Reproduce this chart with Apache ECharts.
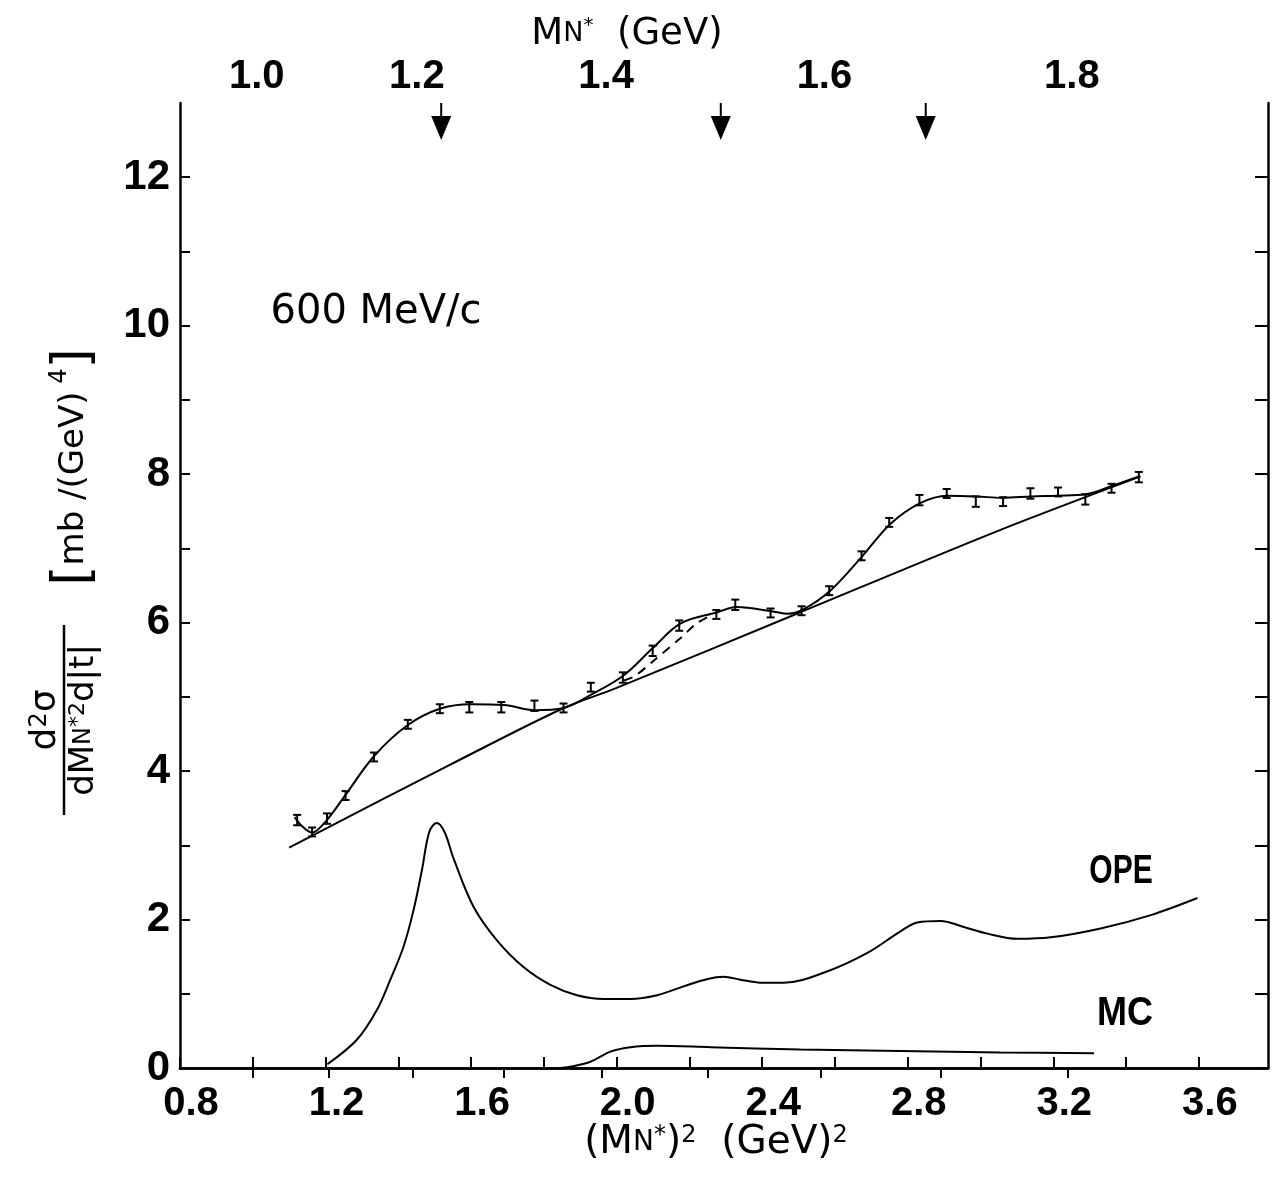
<!DOCTYPE html>
<html>
<head>
<meta charset="utf-8">
<script src="https://cdn.jsdelivr.net/npm/echarts@6/dist/echarts.min.js"></script>
<style>
html, body { margin: 0; padding: 0; background: #fff; }
#chart { width: 1275px; height: 1178px; }
</style>
</head>
<body>
<div id="chart"></div>
<script>
// 数据点 (M_N*)^2 与截面，带误差棒
const pointX = [1.122, 1.163, 1.204, 1.255, 1.333, 1.426, 1.514, 1.595, 1.683, 1.774, 1.854, 1.929, 2.017, 2.099, 2.172, 2.274, 2.326, 2.423, 2.508, 2.584, 2.673, 2.749, 2.832, 2.907, 2.987, 3.062, 3.137, 3.213, 3.288, 3.360, 3.435];
const pointY = [3.34, 3.18, 3.36, 3.67, 4.19, 4.63, 4.84, 4.86, 4.86, 4.88, 4.85, 5.13, 5.26, 5.62, 5.96, 6.11, 6.24, 6.13, 6.16, 6.43, 6.90, 7.35, 7.65, 7.74, 7.63, 7.63, 7.74, 7.76, 7.66, 7.81, 7.96];
const pointErr = [0.07, 0.06, 0.07, 0.06, 0.06, 0.06, 0.06, 0.07, 0.07, 0.07, 0.06, 0.06, 0.07, 0.07, 0.07, 0.06, 0.07, 0.06, 0.06, 0.06, 0.06, 0.06, 0.07, 0.06, 0.07, 0.06, 0.07, 0.06, 0.07, 0.06, 0.07];

// 拟合曲线
const fitX = [1.115, 1.135, 1.163, 1.20, 1.255, 1.333, 1.426, 1.514, 1.60, 1.69, 1.774, 1.854, 1.93, 2.017, 2.10, 2.176, 2.277, 2.33, 2.43, 2.47, 2.51, 2.587, 2.676, 2.752, 2.834, 2.909, 2.989, 3.06, 3.14, 3.21, 3.29, 3.36, 3.435];
const fitY = [3.38, 3.26, 3.17, 3.32, 3.68, 4.20, 4.62, 4.84, 4.90, 4.89, 4.82, 4.85, 5.03, 5.28, 5.66, 5.99, 6.14, 6.21, 6.15, 6.12, 6.17, 6.43, 6.90, 7.33, 7.61, 7.71, 7.70, 7.68, 7.70, 7.71, 7.73, 7.84, 7.97];

// 本底直线
const bgX = [1.10, 1.54, 1.85, 2.00, 2.50, 3.05, 3.44];
const bgY = [2.97, 4.08, 4.84, 5.12, 6.13, 7.24, 7.97];

// 虚线
const dashX = [2.02, 2.05, 2.10, 2.175, 2.22, 2.26];
const dashY = [5.22, 5.28, 5.48, 5.79, 5.99, 6.10];

// OPE 曲线
const opeX = [1.205, 1.286, 1.341, 1.378, 1.414, 1.442, 1.465, 1.485, 1.505, 1.527, 1.552, 1.607, 1.671, 1.744, 1.818, 1.891, 1.964, 2.038, 2.111, 2.184, 2.250, 2.294, 2.340, 2.395, 2.459, 2.578, 2.689, 2.780, 2.826, 2.890, 2.954, 3.019, 3.101, 3.193, 3.330, 3.468, 3.596];
const opeY = [0.05, 0.38, 0.78, 1.19, 1.63, 2.13, 2.67, 3.18, 3.30, 3.18, 2.82, 2.17, 1.72, 1.36, 1.12, 0.98, 0.93, 0.93, 0.98, 1.10, 1.20, 1.23, 1.19, 1.15, 1.15, 1.30, 1.55, 1.84, 1.96, 1.98, 1.90, 1.81, 1.74, 1.76, 1.88, 2.06, 2.29];

// MC 曲线
const mcX = [1.83, 1.864, 1.928, 1.983, 2.038, 2.111, 2.258, 2.505, 2.780, 3.055, 3.312];
const mcY = [0.00, 0.01, 0.085, 0.22, 0.28, 0.30, 0.28, 0.25, 0.23, 0.21, 0.20];

// 坐标轴刻度
const bottomTicks = [0.8, 1.0, 1.2, 1.4, 1.6, 1.8, 2.0, 2.2, 2.4, 2.6, 2.8, 3.0, 3.2, 3.4, 3.6];
const bottomLabels = [0.8, 1.2, 1.6, 2.0, 2.4, 2.8, 3.2, 3.6];
const massTicks = [1.0, 1.1, 1.2, 1.3, 1.4, 1.5, 1.6, 1.7, 1.8];
const massLabels = [1.0, 1.2, 1.4, 1.6, 1.8];
const yTicks = [0, 1, 2, 3, 4, 5, 6, 7, 8, 9, 10, 11, 12];
const yLabels = [0, 2, 4, 6, 8, 10, 12];

// 共振态位置 (GeV)
const resonanceMass = [1.232, 1.512, 1.688];

const pairs = (xs, ys) => xs.map((x, i) => [x, ys[i]]);
const LABEL_FONT = "'Liberation Sans', sans-serif";
const TEXT_FONT = "'DejaVu Sans', sans-serif";

const chart = echarts.init(document.getElementById('chart'));

const lineStyle = { color: '#000', width: 2 };

const option = {
    animation: false,
    backgroundColor: '#fff',
    grid: { left: 180, right: 7, top: 103, bottom: 110 },
    xAxis: [
        {
            type: 'value', min: 0.8, max: 3.79, position: 'bottom',
            axisLine: { show: true, lineStyle: { color: '#000', width: 2.5 } },
            axisTick: { show: true, inside: true, length: 11, customValues: bottomTicks, lineStyle: { color: '#000', width: 2 } },
            axisLabel: {
                customValues: bottomLabels, formatter: v => v.toFixed(1),
                color: '#000', fontFamily: LABEL_FONT, fontWeight: 'bold', fontSize: 40,
                margin: 16, padding: [0, 0, 0, 22]
            },
            splitLine: { show: false }
        },
        {
            type: 'value', min: 0.8, max: 3.79, position: 'top',
            axisLine: { show: true, lineStyle: { color: '#000', width: 2.5 } },
            axisTick: { show: true, inside: true, length: 10, customValues: massTicks.map(m => m * m), lineStyle: { color: '#000', width: 2 } },
            axisLabel: {
                customValues: massLabels.map(m => m * m), formatter: v => Math.sqrt(v).toFixed(1),
                color: '#000', fontFamily: LABEL_FONT, fontWeight: 'bold', fontSize: 40,
                margin: 6, padding: [0, 0, 0, 8]
            },
            splitLine: { show: false }
        }
    ],
    yAxis: [
        {
            type: 'value', min: 0, max: 13, position: 'left',
            axisLine: { show: true, lineStyle: { color: '#000', width: 2.5 } },
            axisTick: { show: true, inside: true, length: 10, customValues: yTicks, lineStyle: { color: '#000', width: 2 } },
            axisLabel: {
                customValues: yLabels, color: '#000', fontFamily: LABEL_FONT, fontWeight: 'bold', fontSize: 42, margin: 10
            },
            splitLine: { show: false }
        },
        {
            type: 'value', min: 0, max: 13, position: 'right',
            axisLine: { show: true, lineStyle: { color: '#000', width: 2.5 } },
            axisTick: { show: true, inside: true, length: 13, customValues: yTicks, lineStyle: { color: '#000', width: 2 } },
            axisLabel: { show: false },
            splitLine: { show: false }
        }
    ],
    series: [
        {
            type: 'line', data: pairs(fitX, fitY), smooth: 0.35, showSymbol: false,
            lineStyle: lineStyle
        },
        {
            type: 'line', data: pairs(bgX, bgY), smooth: 0.3, showSymbol: false,
            lineStyle: lineStyle
        },
        {
            type: 'line', data: pairs(dashX, dashY), smooth: 0.3, showSymbol: false,
            lineStyle: { color: '#000', width: 2, type: [9, 7] }
        },
        {
            // 误差棒
            type: 'custom',
            data: pointX.map((x, i) => [x, pointY[i], pointErr[i]]),
            renderItem: (params, api) => {
                const x = api.value(0), y = api.value(1), e = api.value(2);
                const lo = api.coord([x, y - e]);
                const hi = api.coord([x, y + e]);
                const w = 4;
                const s = { stroke: '#000', lineWidth: 2 };
                return {
                    type: 'group',
                    children: [
                        { type: 'line', shape: { x1: lo[0], y1: lo[1], x2: hi[0], y2: hi[1] }, style: s },
                        { type: 'line', shape: { x1: lo[0] - w, y1: lo[1], x2: lo[0] + w, y2: lo[1] }, style: s },
                        { type: 'line', shape: { x1: hi[0] - w, y1: hi[1], x2: hi[0] + w, y2: hi[1] }, style: s }
                    ]
                };
            }
        },
        {
            type: 'line', data: pairs(opeX, opeY), smooth: 0.35, showSymbol: false,
            lineStyle: lineStyle
        },
        {
            type: 'line', data: pairs(mcX, mcY), smooth: 0.3, showSymbol: false,
            lineStyle: lineStyle
        },
        {
            // 顶部箭头，标示共振态
            type: 'custom',
            clip: false,
            data: resonanceMass.map(m => [m * m, 13]),
            renderItem: (params, api) => {
                const p = api.coord([api.value(0), api.value(1)]);
                return {
                    type: 'group',
                    children: [
                        { type: 'line', shape: { x1: p[0], y1: p[1], x2: p[0], y2: p[1] + 14 }, style: { stroke: '#000', lineWidth: 2 } },
                        { type: 'polygon', shape: { points: [[p[0] - 10, p[1] + 13], [p[0] + 10, p[1] + 13], [p[0], p[1] + 37]] }, style: { fill: '#000' } }
                    ]
                };
            }
        }
    ],
    graphic: [
        {
            type: 'text', x: 627, y: 34,
            style: {
                text: '{m|M}{n|N}{s|*}{m|  (GeV)}',
                rich: {
                    m: { fontFamily: TEXT_FONT, fontSize: 37, fill: '#000' },
                    n: { fontFamily: TEXT_FONT, fontSize: 27, fill: '#000' },
                    s: { fontFamily: TEXT_FONT, fontSize: 20, fill: '#000', verticalAlign: 'top' }
                },
                align: 'center', verticalAlign: 'middle', textAlign: 'center', textVerticalAlign: 'middle'
            }
        },
        {
            type: 'text', x: 716, y: 1143,
            style: {
                text: '{m|(M}{n|N}{s|*}{m|)}{s|2}{m|  (GeV)}{s|2}',
                rich: {
                    m: { fontFamily: TEXT_FONT, fontSize: 39, fill: '#000' },
                    n: { fontFamily: TEXT_FONT, fontSize: 28, fill: '#000' },
                    s: { fontFamily: TEXT_FONT, fontSize: 24, fill: '#000', verticalAlign: 'top' }
                },
                align: 'center', verticalAlign: 'middle', textAlign: 'center', textVerticalAlign: 'middle'
            }
        },
        {
            type: 'text', x: 376, y: 313,
            style: {
                text: '600 MeV/c', fontFamily: TEXT_FONT, fontSize: 40, fill: '#000',
                align: 'center', verticalAlign: 'middle', textAlign: 'center', textVerticalAlign: 'middle'
            }
        },
        {
            type: 'text', x: 1121, y: 872, scaleX: 0.75,
            style: {
                text: 'OPE', fontFamily: "'Liberation Sans', sans-serif", fontWeight: 'bold', fontSize: 40, fill: '#000',
                align: 'center', verticalAlign: 'middle', textAlign: 'center', textVerticalAlign: 'middle'
            }
        },
        {
            type: 'text', x: 1125, y: 1014, scaleX: 0.9,
            style: {
                text: 'MC', fontFamily: "'Liberation Sans', sans-serif", fontWeight: 'bold', fontSize: 40, fill: '#000',
                align: 'center', verticalAlign: 'middle', textAlign: 'center', textVerticalAlign: 'middle'
            }
        },
        {
            // 纵轴标题：分子
            type: 'text', x: 46, y: 720, rotation: Math.PI / 2,
            style: {
                text: '{a|d}{s|2}{a|σ}',
                rich: {
                    a: { fontFamily: TEXT_FONT, fontSize: 36, fill: '#000' },
                    s: { fontFamily: TEXT_FONT, fontSize: 24, fill: '#000', verticalAlign: 'top' }
                },
                align: 'center', verticalAlign: 'middle', textAlign: 'center', textVerticalAlign: 'middle'
            }
        },
        {
            type: 'line', shape: { x1: 64, y1: 625, x2: 64, y2: 815 },
            style: { stroke: '#000', lineWidth: 2.5 }
        },
        {
            // 纵轴标题：分母
            type: 'text', x: 84, y: 720, rotation: Math.PI / 2,
            style: {
                text: '{a|dM}{n|N}{s|*2}{a|d|t|}',
                rich: {
                    a: { fontFamily: TEXT_FONT, fontSize: 34, fill: '#000' },
                    n: { fontFamily: TEXT_FONT, fontSize: 24, fill: '#000' },
                    s: { fontFamily: TEXT_FONT, fontSize: 22, fill: '#000', verticalAlign: 'top' }
                },
                align: 'center', verticalAlign: 'middle', textAlign: 'center', textVerticalAlign: 'middle'
            }
        },
        {
            // 纵轴标题：单位
            type: 'text', x: 74, y: 467, rotation: Math.PI / 2,
            style: {
                text: '{b|[}{a|mb /(GeV)}{s| 4}{b|]}',
                rich: {
                    a: { fontFamily: TEXT_FONT, fontSize: 34, fill: '#000' },
                    b: { fontFamily: TEXT_FONT, fontSize: 52, fill: '#000' },
                    s: { fontFamily: TEXT_FONT, fontSize: 24, fill: '#000', verticalAlign: 'top' }
                },
                align: 'center', verticalAlign: 'middle', textAlign: 'center', textVerticalAlign: 'middle'
            }
        }
    ]
};

chart.setOption(option);
</script>
</body>
</html>
